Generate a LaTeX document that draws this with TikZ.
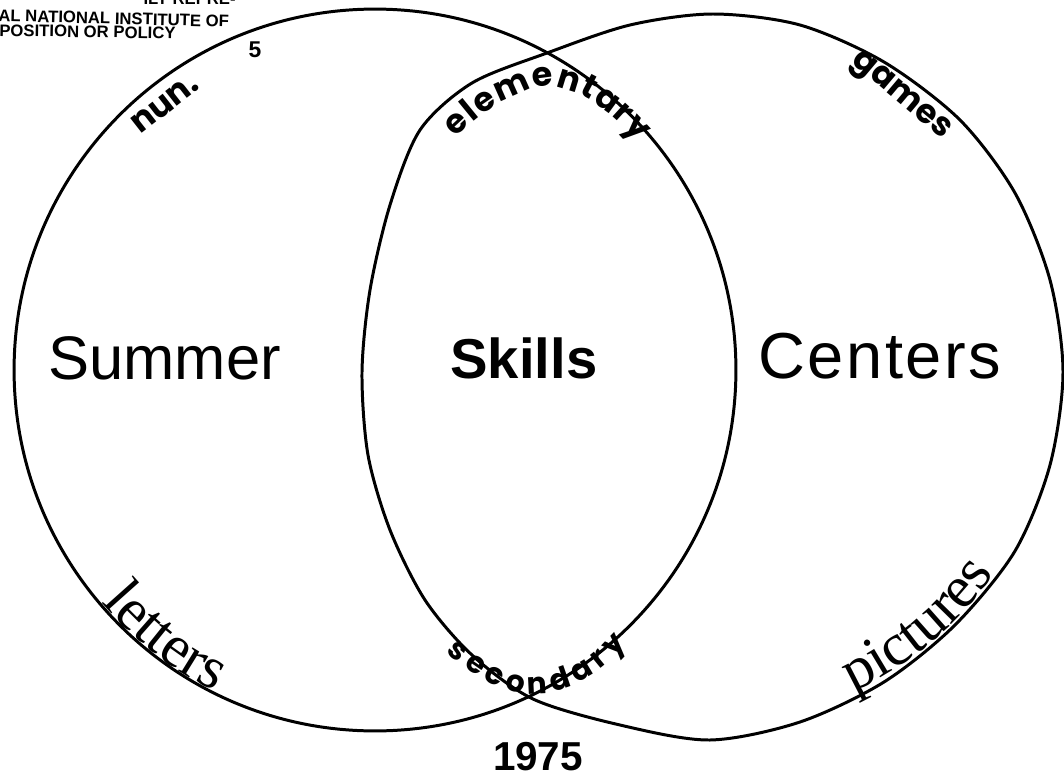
\documentclass[tikz,border=0pt]{standalone}
\usepackage{fontspec}
\setmainfont{Liberation Serif}
\setsansfont{Liberation Sans}
\newfontfamily\geofont{Poppins}
\usetikzlibrary{decorations.text}

\tikzset{
  ring/.style={line width=1.7pt, line join=round},
  bigword/.style={font=\sffamily\fontsize{35}{40}\selectfont, inner sep=0pt},
  smallword/.style={font=\geofont\bfseries\fontsize{19}{22}\selectfont, inner sep=0pt},
  stamp/.style={font=\sffamily\bfseries\fontsize{9.5}{11}\selectfont, inner sep=0pt},
}

\begin{document}
\begin{tikzpicture}[x=0.02cm, y=-0.02cm]
\useasboundingbox (0,0) rectangle (1064,777);
% the two rings
\draw[ring] (375,370) circle[radius=7.22cm];
\draw[ring] plot[smooth cycle] coordinates {(713,14) (800,25) (884,62) (960,120) (1015,193) (1050,280) (1063,372) (1050,465) (1015,551) (955,625) (884,682) (800,722) (710,740) (620,725) (533,699) (472,655) (425,600) (390,530) (368,455) (362,372) (370,290) (390,205) (420,130) (472,83) (547,53) (630,25)};
% stamp in the corner
\node[stamp, anchor=base east] (stampa) at (236,5) {ILY REPRE-};
\node[stamp, anchor=base west, rotate=-1.5] (stampb) at (-2,21) {AL NATIONAL INSTITUTE OF};
\node[stamp, anchor=base west, rotate=-1] (stampc) at (-1,36) {POSITION OR POLICY};
% main words
\node[bigword, anchor=base west] (summer) at (48,379) {Summer};
\node[bigword, font=\sffamily\bfseries\fontsize{32}{38}\selectfont, anchor=base west] (skills) at (450,378) {Skills};
\node[bigword, font=\sffamily\addfontfeature{LetterSpace=4}\fontsize{37}{42}\selectfont, anchor=base west] (centers) at (758,378) {Centers};
\node[font=\sffamily\bfseries\fontsize{23}{26}\selectfont, inner sep=0pt] (year) at (538,757) {1975};
% small words on the rings
\node[smallword, rotate=38] (numw) at (165,104) {nun.};
\node[font=\sffamily\bfseries\fontsize{13}{15}\selectfont, inner sep=0pt] (five) at (255,50) {5};
\node[smallword, rotate=-40] (games) at (900,97) {games};
\path[decorate, decoration={text along path, text align={fit to path},
  text={|\geofont\bfseries\fontsize{19}{22}\selectfont|elementary}}]
  (456,138) .. controls (490,104) and (522,88) .. (548,86) .. controls (575,88) and (605,104) .. (638,142);
\path[decorate, decoration={text along path, text align={fit to path},
  text={|\geofont\bfseries\fontsize{17}{20}\selectfont|secondary}}]
  (446,652) .. controls (490,690) and (515,694) .. (537,694) .. controls (565,693) and (598,676) .. (626,644);
\path[decorate, decoration={text along path, text align=center, raise=1pt,
  text={|\rmfamily\fontsize{34}{38}\selectfont|letters}}]
  (53.3,533.9) arc[start angle=-153, end angle=-103, radius=7.22cm];
\path[decorate, decoration={text along path, text align=center, raise=3pt,
  text={|\rmfamily\fontsize{34}{38}\selectfont|pictures}}]
  (797.7,717.8) arc[start angle=-75, end angle=-25, radius=7.16cm];
\end{tikzpicture}
\end{document}
